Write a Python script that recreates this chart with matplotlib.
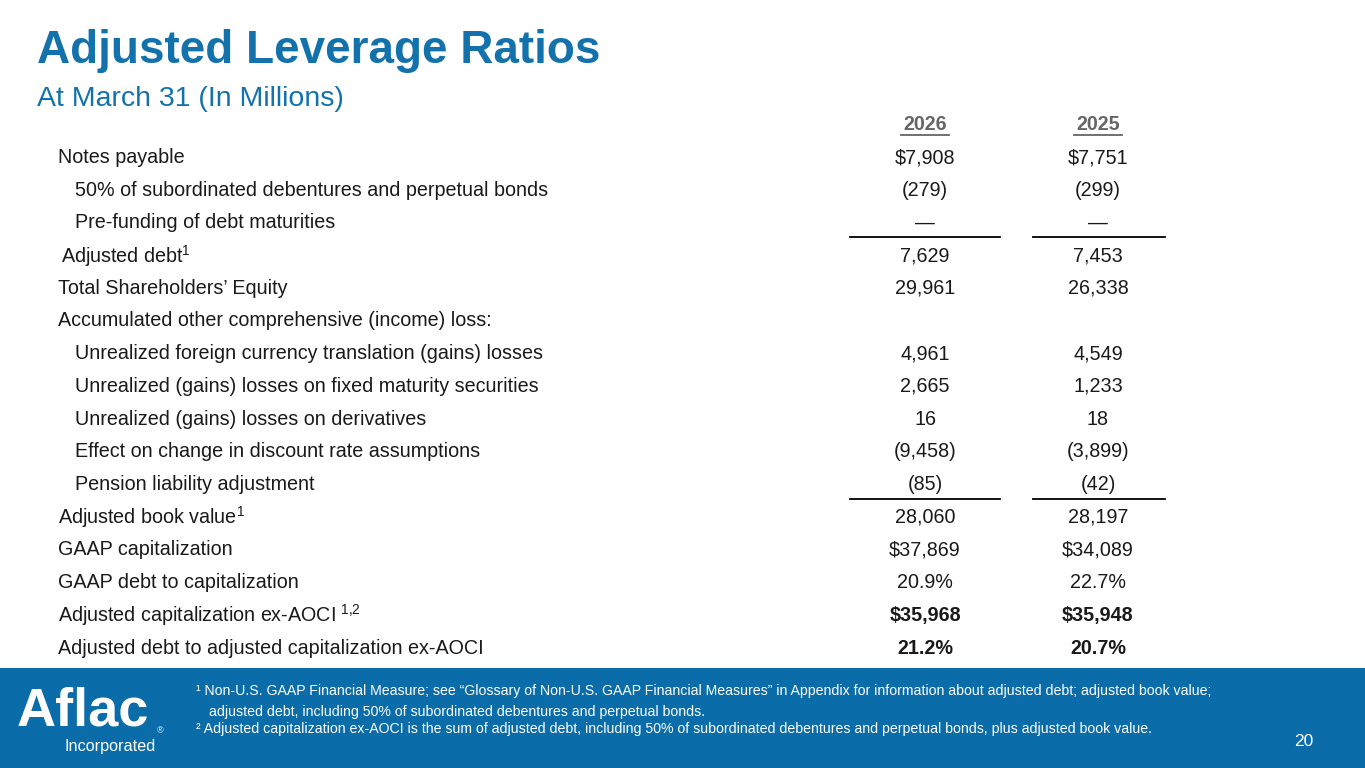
import matplotlib
matplotlib.use("Agg")
import matplotlib.pyplot as plt

plt.rcParams['font.family'] = ['Liberation Sans', 'DejaVu Sans']
plt.rcParams['mathtext.fontset'] = 'custom'
plt.rcParams['mathtext.rm'] = 'Liberation Sans'
plt.rcParams['mathtext.default'] = 'regular'

title = "Adjusted Leverage Ratios"
subtitle = "At March 31 (In Millions)"
years = ["2026", "2025"]
labels = [
    "Notes payable",
    "50% of subordinated debentures and perpetual bonds",
    "Pre-funding of debt maturities",
    "Adjusted debt",
    "Total Shareholders\u2019 Equity",
    "Accumulated other comprehensive (income) loss:",
    "Unrealized foreign currency translation (gains) losses",
    "Unrealized (gains) losses on fixed maturity securities",
    "Unrealized (gains) losses on derivatives",
    "Effect on change in discount rate assumptions",
    "Pension liability adjustment",
    "Adjusted book value",
    "GAAP capitalization",
    "GAAP debt to capitalization",
    "Adjusted capitalization ex-AOCI",
    "Adjusted debt to adjusted capitalization ex-AOCI",
]
superscripts = ["", "", "", "1", "", "", "", "", "", "", "", "1", "", "", "\\ 1{,}2", ""]
indent = [0, 1, 1, 0.2, 0, 0, 1, 1, 1, 1, 1, 0, 0, 0, 0, 0]
values_2026 = ["$7,908", "(279)", "\u2014", "7,629", "29,961", "", "4,961", "2,665", "16",
               "(9,458)", "(85)", "28,060", "$37,869", "20.9%", "$35,968", "21.2%"]
values_2025 = ["$7,751", "(299)", "\u2014", "7,453", "26,338", "", "4,549", "1,233", "18",
               "(3,899)", "(42)", "28,197", "$34,089", "22.7%", "$35,948", "20.7%"]
bold_rows = [14, 15]
underline_rows = [2, 10]
footnote1 = ("\u00b9 Non-U.S. GAAP Financial Measure; see \u201cGlossary of Non-U.S. GAAP Financial Measures\u201d in Appendix "
             "for information about adjusted debt; adjusted book value;")
footnote1b = "adjusted debt, including 50% of subordinated debentures and perpetual bonds."
footnote2 = ("\u00b2 Adjusted capitalization ex-AOCI is the sum of adjusted debt, including 50% of subordinated "
             "debentures and perpetual bonds, plus adjusted book value.")
page = "20"

BLUE = "#1372ac"
BAND = "#0a6ca9"
TXT = "#1a1a1a"
FS = 14.2

fig = plt.figure(figsize=(13.65, 7.68), dpi=100)
ax = fig.add_axes([0, 0, 1, 1])
ax.set_xlim(0, 1365)
ax.set_ylim(768, 0)
ax.axis("off")

ax.text(37, 51, title, fontsize=33, fontweight="bold", color=BLUE, va="center", ha="left")
ax.text(37, 99, subtitle, fontsize=20.5, color=BLUE, va="center", ha="left")

col_x = [925, 1098]
for cx, yr in zip(col_x, years):
    ax.text(cx, 125, yr, fontsize=FS, fontweight="bold", color="#666666", ha="center", va="center")
    ax.plot([cx - 24, cx + 24], [134.5, 134.5], color="#666666", lw=1.3)

row0 = 157.5
step = 32.7
for i, lab in enumerate(labels):
    y = row0 + i * step
    x = 58 + indent[i] * 17
    w = "bold" if i in bold_rows else "normal"
    s = lab
    if superscripts[i]:
        s = lab + "$^{" + superscripts[i] + "}$"
    ax.text(x, y, s, fontsize=FS, color=TXT, va="center", ha="left")
    ax.text(col_x[0], y, values_2026[i], fontsize=FS, color=TXT, ha="center", va="center", fontweight=w)
    ax.text(col_x[1], y, values_2025[i], fontsize=FS, color=TXT, ha="center", va="center", fontweight=w)
    if i in underline_rows:
        ly = y + 14.5
        ax.plot([850, 1000], [ly, ly], color="black", lw=1.3)
        ax.plot([1033, 1165], [ly, ly], color="black", lw=1.3)

ax.add_patch(plt.Rectangle((0, 668), 1365, 100, color=BAND, lw=0))
ax.text(17, 711, "Aflac", fontsize=39, fontweight="bold", color="white", va="center", ha="left")
ax.text(157, 731, "\u00ae", fontsize=6.5, color="white", va="center", ha="left")
ax.text(64, 746, "Incorporated", fontsize=11.7, color="white", va="center", ha="left")
ax.text(196, 691, footnote1, fontsize=10.2, color="white", va="center", ha="left")
ax.text(209, 712, footnote1b, fontsize=10.2, color="white", va="center", ha="left")
ax.text(196, 729, footnote2, fontsize=10.2, color="white", va="center", ha="left")
ax.text(1304, 741, page, fontsize=12.5, color="white", va="center", ha="center")

fig.savefig("out.png", dpi=100)
